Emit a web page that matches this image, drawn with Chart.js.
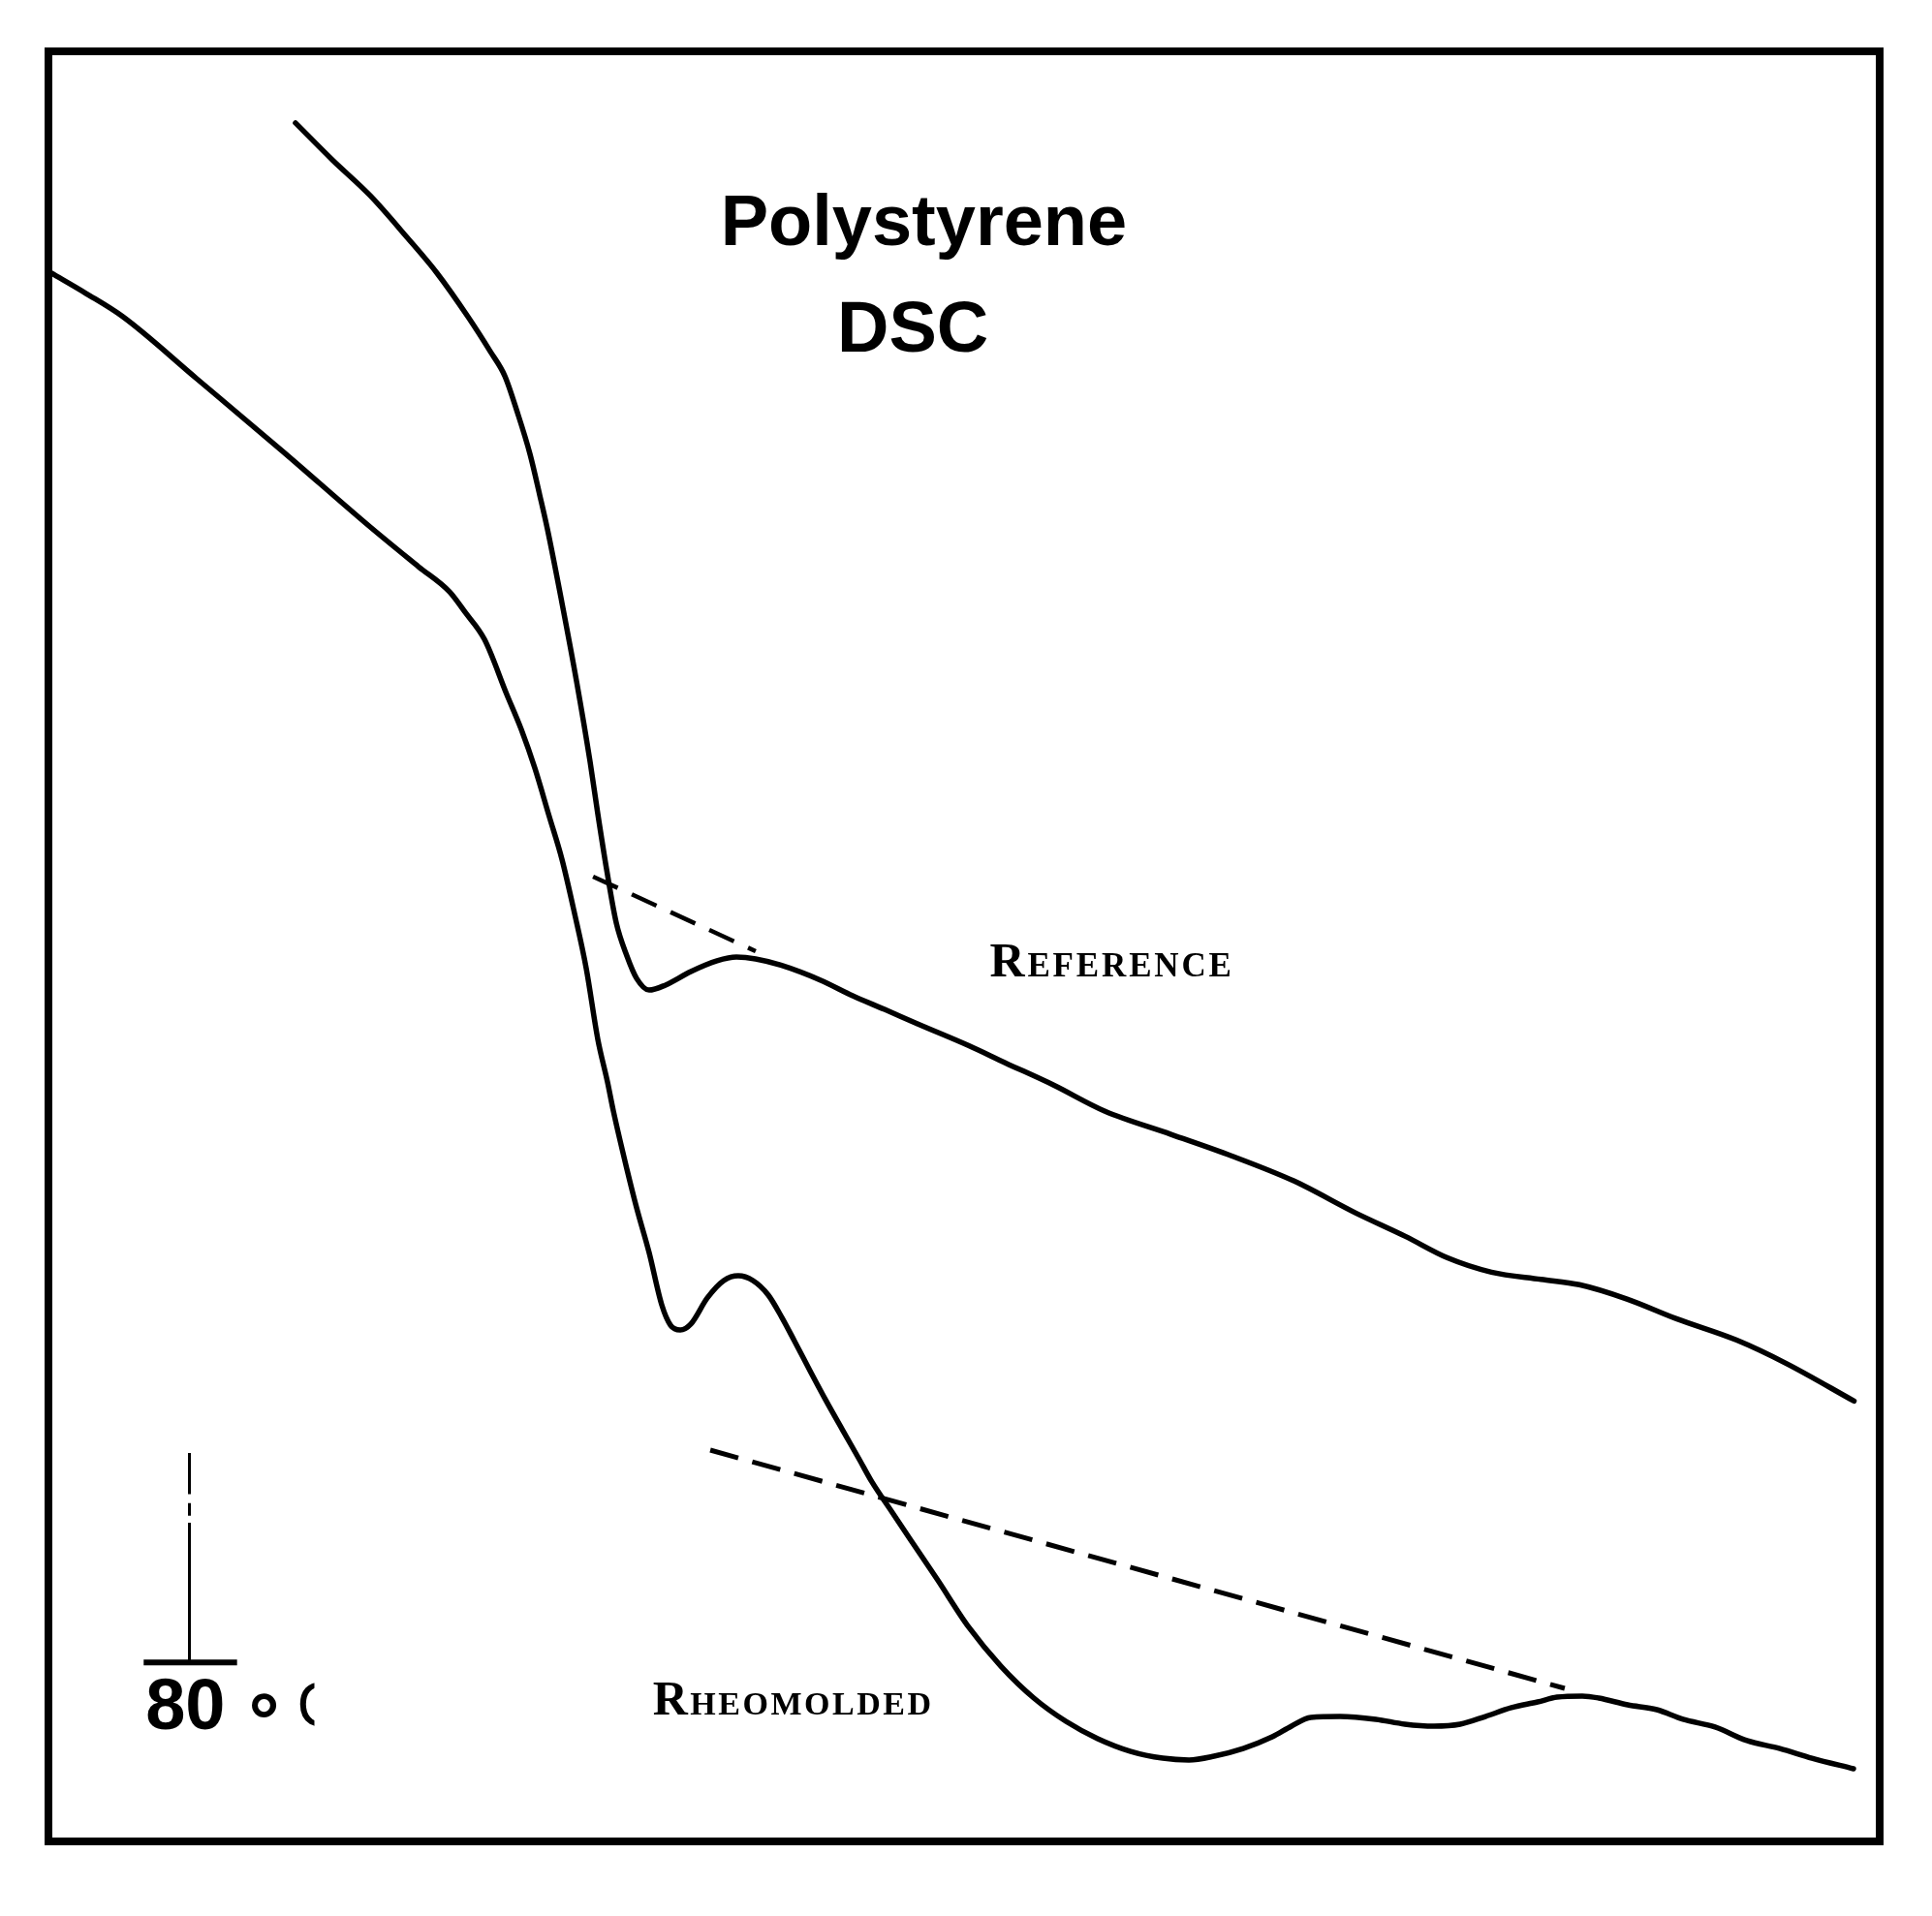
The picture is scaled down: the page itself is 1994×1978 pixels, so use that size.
<!DOCTYPE html>
<html>
<head>
<meta charset="utf-8">
<script src="https://cdn.jsdelivr.net/npm/chart.js@4.4.1/dist/chart.umd.min.js"></script>
<style>
  html, body { margin: 0; padding: 0; background: #ffffff; }
  #wrap { width: 1994px; height: 1978px; }
</style>
</head>
<body>
<div id="wrap"><canvas id="c" width="1994" height="1978"></canvas></div>
<script>
// ---- Data (arbitrary units: x = temperature axis 0..100, y = heat-flow axis 0..100) ----
const referenceX = [13.49,15.50,17.57,19.58,21.22,22.91,24.13,24.92,25.61,26.30,26.83,27.25,28.04,28.84,29.58,30.00,30.48,31.01,31.59,32.12,32.80,33.70,35.08,36.51,37.57,38.62,40.00,42.17,43.92,45.66,47.46,50.26,52.22,54.87,57.67,61.3,64.6,68.0,71.4,74.1,76.4,78.8,81.5,83.6,86.2,88.9,92.2,94.9,98.6];
const referenceY = [96.00,93.94,91.94,89.61,87.61,85.17,83.23,81.87,79.82,77.49,75.20,73.30,69.20,64.80,60.30,57.40,54.30,51.30,49.46,48.21,47.56,47.84,48.59,49.19,49.40,49.30,48.95,48.11,47.24,46.48,45.67,44.45,43.51,42.26,40.80,39.5,38.3,36.9,35.1,33.8,32.6,31.8,31.4,31.1,30.3,29.2,28.0,26.7,24.6];

const rheomoldedX = [0.16,2.06,4.07,8.10,12.80,17.57,20.21,21.90,22.75,23.81,25.03,25.82,26.56,27.35,28.04,28.73,29.37,30.00,30.53,30.85,31.59,32.12,32.80,33.49,33.97,34.50,35.08,35.98,36.88,37.67,38.47,39.31,40.05,40.74,41.64,42.49,43.39,44.29,44.97,46.03,47.09,48.52,50.26,52.01,53.81,55.56,57.30,59.10,60.85,62.28,63.65,65.24,66.83,67.88,68.94,70.53,72.49,74.07,75.66,77.09,78.47,79.89,81.32,82.38,83.76,84.66,86.24,87.83,89.26,91.01,92.75,94.55,96.30,98.57];
const rheomoldedY = [87.61,86.47,85.17,81.71,77.65,73.43,71.21,69.81,68.67,67.15,64.07,62.12,59.96,57.25,54.87,51.84,48.76,44.81,42.42,40.80,37.55,35.39,32.90,29.98,28.84,28.57,28.90,30.36,31.33,31.60,31.33,30.52,29.27,27.95,26.19,24.57,22.94,21.32,20.08,18.45,16.83,14.66,11.96,9.79,8.01,6.71,5.74,5.03,4.65,4.55,4.76,5.19,5.84,6.44,6.93,6.98,6.82,6.55,6.44,6.55,6.98,7.47,7.79,8.06,8.12,8.01,7.63,7.36,6.82,6.39,5.63,5.19,4.65,4.06];

// Extrapolated baselines (dashed)
const refBaselineX = [29.74, 38.62];
const refBaselineY = [53.90, 49.73];
const rheoBaselineX = [36.14, 82.80];
const rheoBaselineY = [21.86, 8.55];

// Scale marker (80 °C)
const markerStemX = [7.7, 7.7, null, 7.7, 7.7, null, 7.7, 7.7];
const markerStemY = [21.7, 19.4, null, 18.9, 18.2, null, 17.8, 10.0];
const markerBarX = [5.2, 10.3];
const markerBarY = [10.0, 10.0];

// Text labels
const titleLines = ["Polystyrene", "DSC"];
const seriesLabels = ["Reference", "Rheomolded"];
const markerLabel = "80 °C";

function pts(xs, ys) {
  return xs.map((x, i) => (x === null ? { x: null, y: null } : { x: x, y: ys[i] }));
}

// ---- positions of annotations (in axis units) ----
const annot = {
  title: [{ x: 47.8, y: 89.2 }, { x: 47.2, y: 83.2 }],
  ref: { x: 51.4, y: 48.3, w: 13.2 },
  rheo: { x: 33.0, y: 7.1, w: 15.2 },
  marker: { x: 5.3, y: 6.3 }
};

function smallCaps(ctx, text, x, y, bigSize, smallSize, weight, targetW) {
  const fam = 'px "Liberation Serif", "Times New Roman", serif';
  const first = text[0].toUpperCase();
  const rest = text.slice(1).toUpperCase().split('');
  ctx.font = weight + ' ' + bigSize + fam;
  const w0 = ctx.measureText(first).width;
  ctx.font = weight + ' ' + smallSize + fam;
  const ws = rest.map(ch => ctx.measureText(ch).width);
  const natural = w0 + ws.reduce((a, b) => a + b, 0);
  const gap = Math.max(0, (targetW - natural) / rest.length);
  ctx.font = weight + ' ' + bigSize + fam;
  ctx.fillText(first, x, y);
  let cx = x + w0 + gap;
  ctx.font = weight + ' ' + smallSize + fam;
  rest.forEach((ch, i) => { ctx.fillText(ch, cx, y); cx += ws[i] + gap; });
}

const decor = {
  id: 'decor',
  beforeDraw(chart) {
    const { ctx, canvas } = chart;
    ctx.save();
    ctx.fillStyle = '#ffffff';
    ctx.fillRect(0, 0, canvas.width, canvas.height);
    ctx.restore();
  },
  afterDraw(chart) {
    const { ctx, chartArea: a, scales } = chart;
    const px = v => scales.x.getPixelForValue(v);
    const py = v => scales.y.getPixelForValue(v);
    ctx.save();
    // frame
    ctx.strokeStyle = '#000';
    ctx.lineWidth = 8;
    ctx.strokeRect(a.left, a.top, a.right - a.left, a.bottom - a.top);

    ctx.fillStyle = '#000';
    ctx.textBaseline = 'alphabetic';
    // title
    ctx.textAlign = 'center';
    ctx.font = 'bold 74px "Liberation Sans", Arial, sans-serif';
    titleLines.forEach((t, i) => ctx.fillText(t, px(annot.title[i].x), py(annot.title[i].y)));

    // series labels (small caps serif)
    ctx.textAlign = 'left';
    const wRef = px(annot.ref.x + annot.ref.w) - px(annot.ref.x);
    smallCaps(ctx, seriesLabels[0], px(annot.ref.x), py(annot.ref.y), 50, 35, 'bold', wRef);
    const wRh = px(annot.rheo.x + annot.rheo.w) - px(annot.rheo.x);
    smallCaps(ctx, seriesLabels[1], px(annot.rheo.x), py(annot.rheo.y), 50, 34, 'bold', wRh);

    // scale marker label "80 °C" (the C is cut off in the original scan)
    const mx = px(annot.marker.x), my = py(annot.marker.y);
    const parts = markerLabel.split(' ');
    ctx.font = 'bold 74px "Liberation Sans", Arial, sans-serif';
    ctx.fillText(parts[0], mx, my);
    const w80 = ctx.measureText(parts[0]).width;
    const deg = parts[1][0], cc = parts[1].slice(1);
    ctx.font = 'bold 80px "Liberation Sans", Arial, sans-serif';
    ctx.fillText(deg, mx + w80 + 24, my + 19);
    ctx.save();
    ctx.beginPath();
    ctx.rect(mx + w80 + 74, my - 80, 18, 100);
    ctx.clip();
    ctx.font = '64px "Liberation Sans", Arial, sans-serif';
    ctx.fillText(cc, mx + w80 + 74, my - 3);
    ctx.restore();
    ctx.restore();
  }
};

const solid = { showLine: true, pointRadius: 0, borderColor: '#000', fill: false, cubicInterpolationMode: 'monotone', borderJoinStyle: 'round', borderCapStyle: 'round' };

new Chart(document.getElementById('c'), {
  type: 'scatter',
  data: {
    datasets: [
      Object.assign({ label: seriesLabels[0], data: pts(referenceX, referenceY), borderWidth: 5.5 }, solid),
      Object.assign({ label: seriesLabels[1], data: pts(rheomoldedX, rheomoldedY), borderWidth: 5.5 }, solid),
      { label: 'ref baseline', data: pts(refBaselineX, refBaselineY), showLine: true, pointRadius: 0, borderColor: '#000', borderWidth: 4.5, borderDash: [28, 16] },
      { label: 'rheo baseline', data: pts(rheoBaselineX, rheoBaselineY), showLine: true, pointRadius: 0, borderColor: '#000', borderWidth: 5, borderDash: [30, 15] },
      { label: 'marker stem', data: pts(markerStemX, markerStemY), showLine: true, spanGaps: false, pointRadius: 0, borderColor: '#000', borderWidth: 3 },
      { label: 'marker bar', data: pts(markerBarX, markerBarY), showLine: true, pointRadius: 0, borderColor: '#000', borderWidth: 6 }
    ]
  },
  options: {
    responsive: false,
    animation: false,
    devicePixelRatio: 1,
    layout: { padding: { left: 50, top: 53, right: 54, bottom: 77 } },
    plugins: { legend: { display: false }, tooltip: { enabled: false } },
    scales: {
      x: { type: 'linear', min: 0, max: 100, display: false },
      y: { type: 'linear', min: 0, max: 100, display: false }
    }
  },
  plugins: [decor]
});
</script>
</body>
</html>
